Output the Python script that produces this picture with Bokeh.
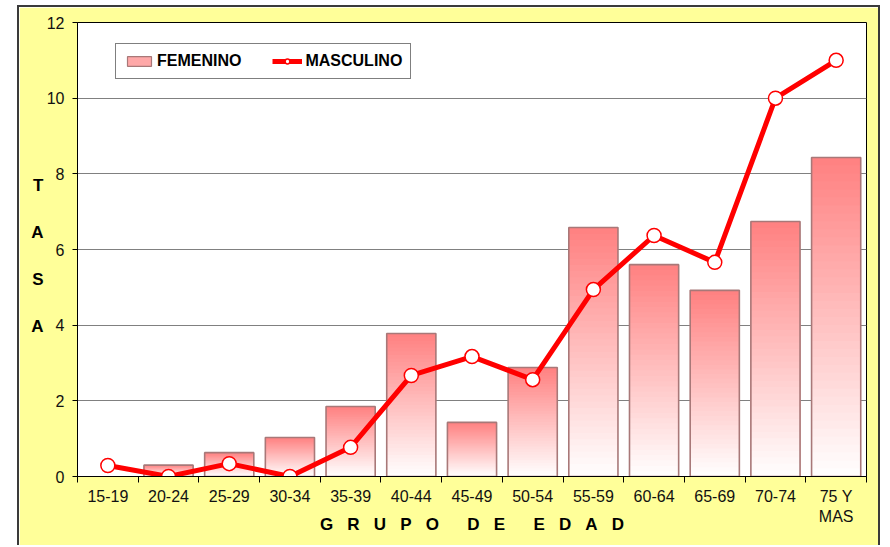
from bokeh.plotting import figure
from bokeh.models import (ColumnDataSource, FixedTicker, Legend, LegendItem,
                          LinearAxis, Range1d)
from bokeh.embed import file_html
from bokeh.resources import INLINE

# ---- data ----
grupos = ["15-19", "20-24", "25-29", "30-34", "35-39", "40-44", "45-49",
          "50-54", "55-59", "60-64", "65-69", "70-74", "75 Y\nMAS"]
femenino = [0.0, 0.3, 0.63, 1.03, 1.85, 3.78, 1.43, 2.88, 6.58, 5.6, 4.92, 6.74, 8.43]
masculino = [0.29, 0.0, 0.34, 0.0, 0.77, 2.67, 3.17, 2.56, 4.94, 6.37, 5.66, 10.0, 11.0]
y_ticks = [0, 2, 4, 6, 8, 10, 12]
x_title_letters = [["G", "R", "U", "P", "O"], ["D", "E"], ["E", "D", "A", "D"]]
y_title_letters = ["T", "A", "S", "A"]
serie_f = "FEMENINO"
serie_m = "MASCULINO"

FONT = "Liberation Sans"
NB = "\u00a0"
x_title = (NB * 6).join((NB * 3).join(w) for w in x_title_letters)

n = len(grupos)
centers = [i + 0.5 for i in range(n)]
bar_w = 0.81

W, H = 863, 540
p = figure(width=W, height=H, x_range=Range1d(0, n), y_range=Range1d(0, 12),
           output_backend="svg", toolbar_location=None,
           min_border_left=58, min_border_right=16, min_border_top=15,
           min_border_bottom=71,
           background_fill_color="white", border_fill_color="#FFFF99")
p.margin = (5, 0, 0, 17)
p.styles = {"border-top": "2px solid #3a3a3a", "border-left": "2px solid #3a3a3a",
            "border-right": "2px solid #3a3a3a"}
p.outline_line_color = "black"
p.outline_line_width = 1

# ---- gradient bars (overlapping slices: darkest full bar first) ----
N = 40
L, R, B, T, C = [], [], [], [], []
for k in reversed(range(N)):
    t = (k + 0.5) / N
    g = int(round(255 - (255 - 128) * t))
    col = "#%02x%02x%02x" % (255, g, g)
    for c, v in zip(centers, femenino):
        if v <= 0:
            continue
        L.append(c - bar_w / 2)
        R.append(c + bar_w / 2)
        B.append(0)
        T.append(v * (k + 1) / N)
        C.append(col)
p.quad(left="l", right="r", bottom="b", top="t", fill_color="c", line_color=None,
       source=ColumnDataSource(dict(l=L, r=R, b=B, t=T, c=C)))

bars_src = ColumnDataSource(dict(
    l=[c - bar_w / 2 for c, v in zip(centers, femenino) if v > 0],
    r=[c + bar_w / 2 for c, v in zip(centers, femenino) if v > 0],
    t=[v for v in femenino if v > 0]))
p.quad(left="l", right="r", bottom=0, top="t", source=bars_src,
       fill_alpha=0, line_color="#A87878", line_width=1.6)

nan = float("nan")
legend_bar = p.quad(left=[nan], right=[nan], bottom=[nan], top=[nan],
                    fill_color="#FFA8A8", line_color="#A87878", line_width=1.2)

# ---- line ----
m_src = ColumnDataSource(dict(x=centers, y=masculino))
line_r = p.line("x", "y", source=m_src, line_color="#FF0000", line_width=5)
scat_r = p.scatter("x", "y", source=m_src, size=14, marker="circle",
                   fill_color="white", line_color="#FF0000", line_width=1.5)

# ---- axes ----
p.xgrid.visible = False
p.ygrid.grid_line_color = "#808080"
p.ygrid.grid_line_width = 1
# labels pushed out by a hidden long major tick; visible short ticks drawn as minor ticks
p.yaxis.ticker = FixedTicker(ticks=y_ticks, minor_ticks=y_ticks)
p.yaxis.axis_line_color = "black"
p.yaxis.major_tick_in = 0
p.yaxis.major_tick_out = 13
p.yaxis.major_tick_line_color = None
p.yaxis.minor_tick_in = 0
p.yaxis.minor_tick_out = 5
p.yaxis.minor_tick_line_color = "black"
p.yaxis.major_label_standoff = 0
p.yaxis.major_label_text_font = FONT
p.yaxis.major_label_text_font_size = "16px"
p.yaxis.major_label_text_color = "#111111"

# stacked vertical title "T A S A" as a tick-label-only axis
ty_center, ty_step = 5.83, 1.24
ty_pos = [ty_center + (1.5 - i) * ty_step for i in range(len(y_title_letters))]
tasa_axis = LinearAxis(ticker=FixedTicker(ticks=ty_pos, minor_ticks=[]),
                       major_label_overrides={v: ch for v, ch in zip(ty_pos, y_title_letters)},
                       axis_line_color=None, major_tick_line_color=None,
                       minor_tick_line_color=None, major_tick_in=0, major_tick_out=0,
                       major_label_standoff=0, major_label_text_font=FONT,
                       major_label_text_font_style="bold",
                       major_label_text_font_size="17px",
                       major_label_text_color="black")
p.add_layout(tasa_axis, "left")

p.xaxis.ticker = FixedTicker(ticks=centers, minor_ticks=list(range(n + 1)))
p.xaxis.major_label_overrides = {c: g for c, g in zip(centers, grupos)}
p.xaxis.axis_line_color = "black"
p.xaxis.major_tick_line_color = None
p.xaxis.major_tick_in = 0
p.xaxis.major_tick_out = 0
p.xaxis.minor_tick_in = 0
p.xaxis.minor_tick_out = 6
p.xaxis.minor_tick_line_color = "black"
p.xaxis.major_label_standoff = 5
p.xaxis.major_label_text_font = FONT
p.xaxis.major_label_text_font_size = "16px"
p.xaxis.major_label_text_color = "#111111"
p.xaxis.axis_label = x_title
p.xaxis.axis_label_standoff = -13
p.xaxis.axis_label_text_font = FONT
p.xaxis.axis_label_text_font_style = "bold"
p.xaxis.axis_label_text_font_size = "17px"
p.xaxis.axis_label_text_color = "black"

# ---- legend ----
legend = Legend(items=[LegendItem(label=serie_f, renderers=[legend_bar]),
                       LegendItem(label=serie_m, renderers=[line_r, scat_r])],
                orientation="horizontal", location=(38, 397), margin=0,
                padding=8, spacing=31, glyph_width=30, glyph_height=12,
                label_standoff=3, label_text_font=FONT, label_text_font_style="bold",
                label_text_font_size="16px", label_text_color="black",
                border_line_color="black", border_line_width=1,
                background_fill_color="white", background_fill_alpha=1)
p.add_layout(legend)

open("out.html", "w").write(file_html(p, INLINE))
